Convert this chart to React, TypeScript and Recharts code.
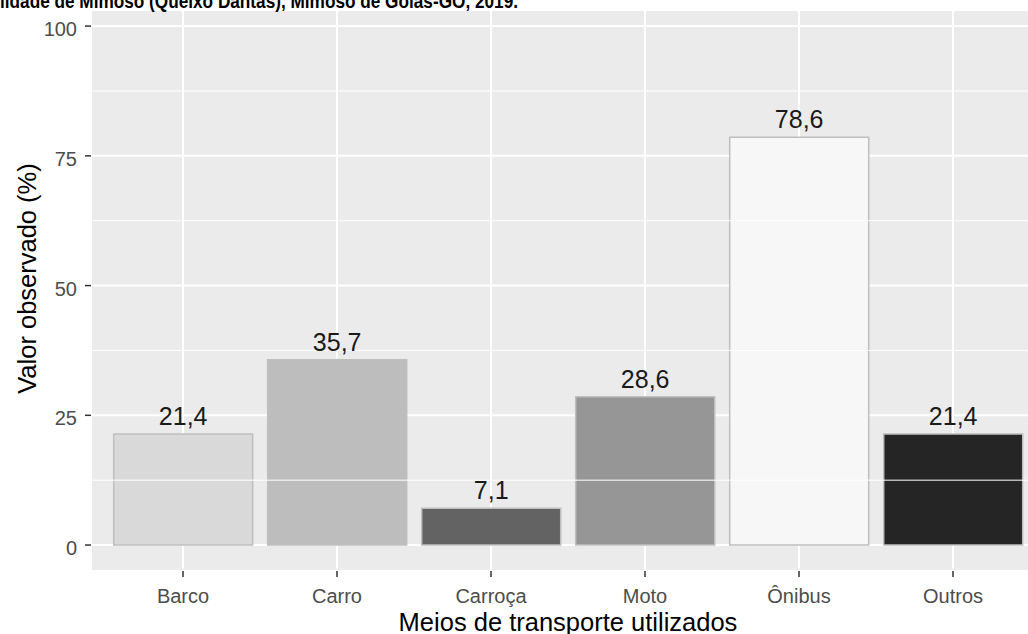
import React from "react";
import {
  BarChart,
  Bar,
  XAxis,
  YAxis,
  CartesianGrid,
  ReferenceLine,
  LabelList,
  Cell,
} from "recharts";

const categories = ["Barco", "Carro", "Carroça", "Moto", "Ônibus", "Outros"];
const values = [21.4, 35.7, 7.1, 28.6, 78.6, 21.4];
// Greys palette, same order as categories
const barColors = ["#D9D9D9", "#BDBDBD", "#636363", "#969696", "#F7F7F7", "#252525"];
const yTicks = [0, 25, 50, 75, 100];
const yMinorTicks = [12.5, 37.5, 62.5, 87.5];
const yDomain: [number, number] = [-5, 103.1];

const titleText = "lidade de Mimoso (Queixo Dantas), Mimoso de Goiás-GO, 2019.";
const xTitle = "Meios de transporte utilizados";
const yTitle = "Valor observado (%)";

const FONT = "'Liberation Sans', Arial, sans-serif";

const chartData = categories.map((cat, i) => ({ cat, value: values[i] }));

const fmt = (v: number) => v.toFixed(1).replace(".", ",");

const YTick = ({ x, y, payload }: any) => (
  <text x={x} y={y} dy={10} textAnchor="end" fill="#4D4D4D" fontSize={20} fontFamily={FONT}>
    {payload.value}
  </text>
);

const XTick = ({ x, y, payload }: any) => (
  <text x={x} y={y} dy={14} textAnchor="middle" fill="#4D4D4D" fontSize={20} fontFamily={FONT}>
    {payload.value}
  </text>
);

const renderBarLabel = (props: any) => {
  const { x, y, width, value } = props;
  return (
    <text
      x={Number(x) + Number(width) / 2}
      y={Number(y) - 9}
      textAnchor="middle"
      fill="#1A1A1A"
      fontSize={25}
      fontFamily={FONT}
    >
      {fmt(Number(value))}
    </text>
  );
};

const renderXTitle = (props: any) => {
  const vb = props.viewBox;
  return (
    <text
      x={vb.x + vb.width / 2}
      y={vb.y + 60}
      textAnchor="middle"
      fill="#000"
      fontSize={25.5}
      fontFamily={FONT}
    >
      {xTitle}
    </text>
  );
};

const renderYTitle = (props: any) => {
  const vb = props.viewBox;
  const cx = vb.x + 36;
  const cy = vb.y + vb.height / 2 - 12;
  return (
    <text
      x={cx}
      y={cy}
      transform={`rotate(-90, ${cx}, ${cy})`}
      textAnchor="middle"
      fill="#000"
      fontSize={25.5}
      fontFamily={FONT}
    >
      {yTitle}
    </text>
  );
};

export default function App() {
  return (
    <div
      style={{
        position: "fixed",
        left: 0,
        top: 0,
        width: 1028,
        height: 634,
        overflow: "hidden",
        background: "#fff",
      }}
    >
      <BarChart
        width={1060}
        height={634}
        data={chartData}
        margin={{ top: 10, right: 15, left: 0, bottom: 0 }}
        barCategoryGap="5%"
      >
        <CartesianGrid fill="#EBEBEB" stroke="#FFFFFF" strokeWidth={2} />
        {yMinorTicks.map((t) => (
          <ReferenceLine key={t} y={t} stroke="#FFFFFF" strokeWidth={1} />
        ))}
        <XAxis
          dataKey="cat"
          height={63}
          padding={{ left: 15, right: 15 }}
          axisLine={false}
          tickLine={{ stroke: "#333333", strokeWidth: 1.5 }}
          tickSize={6}
          tickMargin={12}
          tick={<XTick />}
          interval={0}
          label={renderXTitle}
        />
        <YAxis
          width={91}
          domain={yDomain}
          ticks={yTicks}
          allowDataOverflow
          axisLine={false}
          tickLine={{ stroke: "#333333", strokeWidth: 1.5 }}
          tickSize={6}
          tickMargin={8}
          tick={<YTick />}
          label={renderYTitle}
        />
        <Bar dataKey="value" stroke="#BEBEBE" strokeWidth={1.5} isAnimationActive={false}>
          {chartData.map((_, i) => (
            <Cell key={i} fill={barColors[i]} />
          ))}
          <LabelList dataKey="value" content={renderBarLabel} />
        </Bar>
      </BarChart>
      <svg
        width={1028}
        height={20}
        style={{ position: "absolute", left: 0, top: 0, pointerEvents: "none" }}
      >
        <text
          x={0}
          y={8}
          textLength={518}
          lengthAdjust="spacingAndGlyphs"
          fill="#000"
          fontSize={21}
          fontWeight="bold"
          fontFamily="'Liberation Sans Narrow', 'Liberation Sans', Arial, sans-serif"
        >
          {titleText}
        </text>
      </svg>
    </div>
  );
}
